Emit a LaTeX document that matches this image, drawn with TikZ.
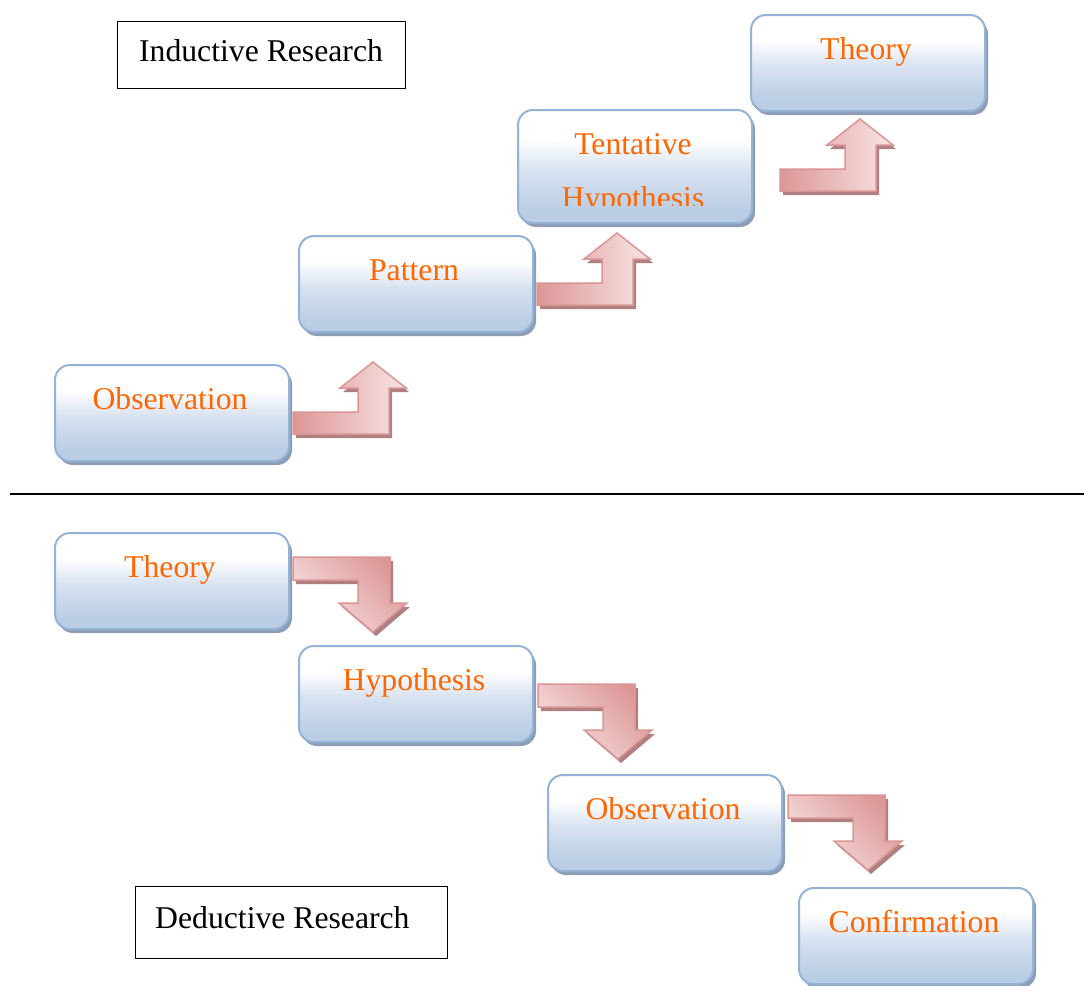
\documentclass[tikz,border=0pt]{standalone}
\usepackage{fontspec}
\setmainfont{Liberation Serif}
\usetikzlibrary{shadows}
\definecolor{orng}{RGB}{255,102,0}
\definecolor{boxline}{RGB}{149,179,215}
\definecolor{boxbot}{RGB}{185,205,229}
\definecolor{boxmid}{RGB}{215,226,240}
\definecolor{boxshadow}{RGB}{140,158,182}
\definecolor{arrline}{RGB}{217,150,148}
\definecolor{arrdark}{RGB}{221,150,150}
\definecolor{arrlight}{RGB}{248,228,228}
\definecolor{arrshadow}{RGB}{176,128,128}
\pgfdeclareverticalshading{boxshade}{100bp}{color(0bp)=(boxbot); color(30bp)=(boxbot); color(48bp)=(boxmid); color(62bp)=(white); color(100bp)=(white)}
\tikzset{
  box/.style={draw=boxline, line width=2pt, rounded corners=15pt,
    shading=boxshade, minimum width=234pt,
    minimum height=96pt, anchor=north west, inner sep=0pt,
    drop shadow={shadow xshift=3pt, shadow yshift=-4pt, fill=boxshadow, opacity=1}},
  txt/.style={font=\fontsize{31.7}{54}\selectfont, text=orng, anchor=base, inner sep=0pt},
  lbl/.style={draw=black, line width=1.3pt, fill=white, anchor=north west, inner sep=0pt},
  lbltxt/.style={font=\fontsize{31.7}{40}\selectfont, text=black, anchor=base, inner sep=0pt},
  arrbody/.style={draw=arrline, line width=1.5pt, line join=miter},
  uparr/.pic={
    \fill[arrshadow, shift={(3,4)}] (0,0) -- (65,0) -- (65,-24) -- (47,-24) -- (80,-50) -- (113,-24) -- (96,-24) -- (96,22) -- (0,22) -- cycle;
    \path[arrbody, left color=arrdark, right color=arrlight] (0,0) -- (65,0) -- (65,-24) -- (47,-24) -- (80,-50) -- (113,-24) -- (96,-24) -- (96,22) -- (0,22) -- cycle;
  },
  downarr/.pic={
    \fill[arrshadow, shift={(3,4)}] (0,0) -- (97,0) -- (97,46) -- (114,46) -- (80,75) -- (46,46) -- (65,46) -- (65,23) -- (0,23) -- cycle;
    \path[arrbody, top color=arrdark, bottom color=arrlight, shading angle=-45] (0,0) -- (97,0) -- (97,46) -- (114,46) -- (80,75) -- (46,46) -- (65,46) -- (65,23) -- (0,23) -- cycle;
  }
}
\begin{document}
\begin{tikzpicture}[x=1pt,y=-1pt]
\useasboundingbox (0,0) rectangle (1084,985);
\fill[white] (0,0) rectangle (1084,985);

% Inductive
\node[lbl, minimum width=288pt, minimum height=67pt] (indl) at (117,21) {};
\node[lbltxt] (indt) at (261,61) {Inductive Research};

\node[box] (iobs) at (54,364) {};
\node[txt] (iobst) at (170,409) {Observation};
\node[box] (ipat) at (298,235) {};
\node[txt] (ipatt) at (414,280) {Pattern};
\node[box, minimum height=113pt] (itent) at (517,109) {};
\node[txt] (itentt) at (633,154) {Tentative};
\begin{scope}
\clip (520,110) rectangle (750,205);
\node[txt] (ihypt) at (633,208) {Hypothesis};
\end{scope}
\node[box] (ithe) at (750,14) {};
\node[txt] (ithet) at (866,59) {Theory};

\pic (ua1) at (293,412) {uparr};
\pic (ua2) at (537,283) {uparr};
\pic (ua3) at (780,169) {uparr};

% divider
\draw[line width=1.5pt] (10,494) coordinate (dl) -- (1084,494) coordinate (dr);

% Deductive
\node[box] (dthe) at (54,532) {};
\node[txt] (dthet) at (170,577) {Theory};
\node[box] (dhyp) at (298,645) {};
\node[txt] (dhypt) at (414,690) {Hypothesis};
\node[box] (dobs) at (547,774) {};
\node[txt] (dobst) at (663,819) {Observation};
\node[box] (dcon) at (798,887) {};
\node[txt] (dcont) at (914,932) {Confirmation};

\pic (da1) at (293,557) {downarr};
\pic (da2) at (538,684) {downarr};
\pic (da3) at (788,795) {downarr};

\node[lbl, minimum width=312pt, minimum height=72pt] (dedl) at (135,886) {};
\node[lbltxt, anchor=base west] (dedt) at (155,928) {Deductive Research};
\end{tikzpicture}
\end{document}
